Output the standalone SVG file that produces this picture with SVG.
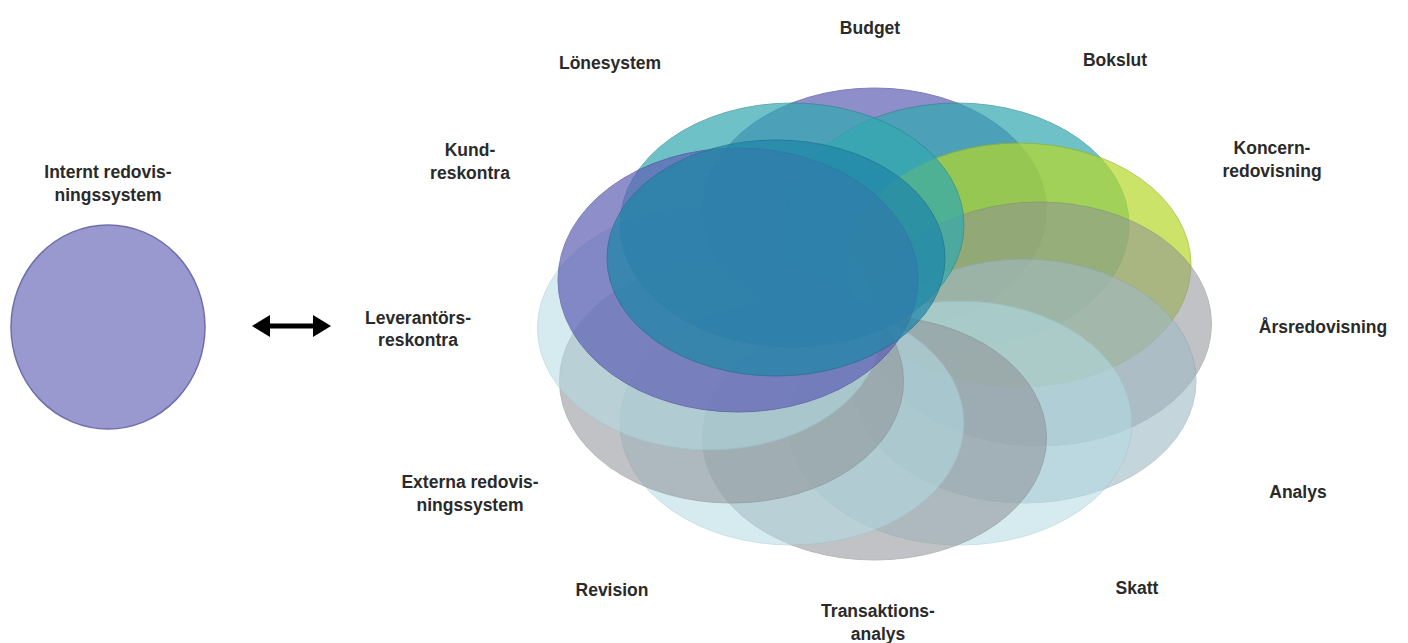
<svg xmlns="http://www.w3.org/2000/svg" width="1408" height="643" viewBox="0 0 1408 643">
  <style>
    .lbl { font-family: "Liberation Sans", Arial, sans-serif; font-weight: bold; font-size: 17.5px; fill: #2a2a2a; text-anchor: middle; }
    .el { stroke-width: 1; }
    .purple { fill: #5f5fb5; stroke: #4a4a9a; opacity: 0.7; }
    .teal { fill: #31a9b0; stroke: #2a8a90; opacity: 0.7; }
    .ygreen { fill: #b7d82a; stroke: #98b420; opacity: 0.7; }
    .gray { fill: #8e9296; stroke: #7c8084; opacity: 0.55; }
    .bluegray { fill: #a0bac6; stroke: #8ea8b4; opacity: 0.6; }
    .cyan { fill: #b3dce4; stroke: #9fc8d0; opacity: 0.55; }
    .front { fill: #1f86a8; stroke: #1a7090; opacity: 0.72; }
  </style>
  <defs>
    <marker id="ah" markerUnits="userSpaceOnUse" markerWidth="18" markerHeight="22" refX="8" refY="11" orient="auto-start-reverse">
      <path d="M0,0 L18,11 L0,22 z" fill="#000"/>
    </marker>
  </defs>
  <rect width="1408" height="643" fill="#fff"/>

  <g id="internt">
    <ellipse cx="108" cy="327" rx="97" ry="102" fill="#9999d0" stroke="#6f6fae" stroke-width="1.5"/>
    <text class="lbl" x="108" y="178">Internt redovis-</text>
    <text class="lbl" x="108" y="201">ningssystem</text>
  </g>

  <g id="connectors">
    <line x1="262" y1="326" x2="321" y2="326" stroke="#000" stroke-width="5" marker-start="url(#ah)" marker-end="url(#ah)"/>
  </g>

  <g id="rosette">
    <ellipse id="e-budget" class="el purple" cx="874.5" cy="210" rx="172" ry="122"/>
    <ellipse id="e-bokslut" class="el teal" cx="957" cy="225" rx="172" ry="122"/>
    <ellipse id="e-koncern" class="el ygreen" cx="1019" cy="265" rx="172" ry="122"/>
    <ellipse id="e-ars" class="el gray" cx="1039.5" cy="324" rx="172" ry="122"/>
    <ellipse id="e-analys" class="el bluegray" cx="1024" cy="381" rx="172" ry="122"/>
    <ellipse id="e-skatt" class="el cyan" cx="960" cy="423" rx="172" ry="122"/>
    <ellipse id="e-transaktion" class="el gray" cx="874.5" cy="438" rx="172" ry="122"/>
    <ellipse id="e-revision" class="el cyan" cx="792" cy="423" rx="172" ry="122"/>
    <ellipse id="e-externa" class="el gray" cx="731.5" cy="381" rx="172" ry="122"/>
    <ellipse id="e-leverantors" class="el cyan" cx="709.5" cy="328" rx="172" ry="122"/>
    <ellipse id="e-lonesystem" class="el teal" cx="792" cy="225" rx="172" ry="122"/>
    <ellipse id="e-kund" class="el purple" cx="738" cy="280" rx="180" ry="132"/>
    <ellipse id="e-front" class="el front" cx="776" cy="258" rx="169" ry="118"/>
  </g>

  <g id="budget"><text class="lbl" x="870" y="34">Budget</text></g>
  <g id="lonesystem"><text class="lbl" x="610" y="69">Lönesystem</text></g>
  <g id="bokslut"><text class="lbl" x="1115" y="66">Bokslut</text></g>
  <g id="kundreskontra">
    <text class="lbl" x="470" y="156">Kund-</text>
    <text class="lbl" x="470" y="179">reskontra</text>
  </g>
  <g id="koncernredovisning">
    <text class="lbl" x="1272" y="154">Koncern-</text>
    <text class="lbl" x="1272" y="177">redovisning</text>
  </g>
  <g id="leverantorsreskontra">
    <text class="lbl" x="418" y="324">Leverantörs-</text>
    <text class="lbl" x="418" y="346">reskontra</text>
  </g>
  <g id="arsredovisning"><text class="lbl" x="1323" y="333">Årsredovisning</text></g>
  <g id="externa">
    <text class="lbl" x="470" y="488">Externa redovis-</text>
    <text class="lbl" x="470" y="511">ningssystem</text>
  </g>
  <g id="analys"><text class="lbl" x="1298" y="498">Analys</text></g>
  <g id="revision"><text class="lbl" x="612" y="596">Revision</text></g>
  <g id="skatt"><text class="lbl" x="1137" y="594">Skatt</text></g>
  <g id="transaktionsanalys">
    <text class="lbl" x="878" y="617">Transaktions-</text>
    <text class="lbl" x="878" y="640">analys</text>
  </g>
</svg>
